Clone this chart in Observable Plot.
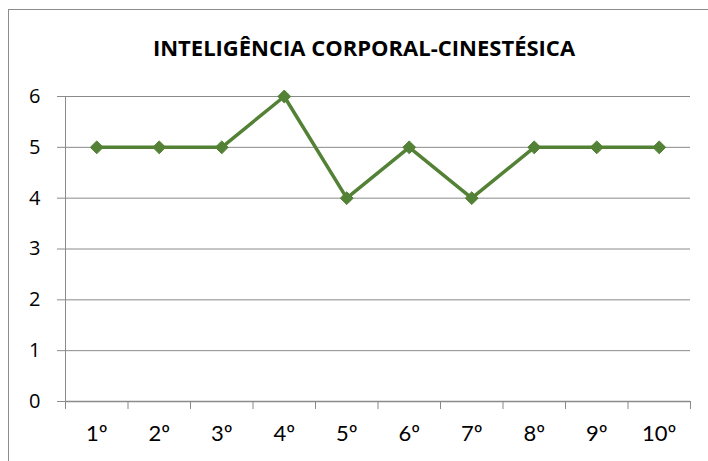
<!DOCTYPE html>
<html>
<head>
<meta charset="utf-8">
<script src="https://cdn.jsdelivr.net/npm/d3@7"></script>
<script src="https://cdn.jsdelivr.net/npm/@observablehq/plot@0.6"></script>
<style>
  body { margin: 0; background: #fff; font-family: "Open Sans", sans-serif; }
  #wrap { position: relative; width: 708px; height: 461px; overflow: hidden; }
  #frame { position: absolute; left: 8px; top: 9px; width: 720px; height: 470px; border: 1px solid #8c8c8c; box-sizing: border-box; }
  #title { position: relative; height: 80px; text-align: center; font-weight: bold; font-size: 22px; line-height: 24px; padding-top: 35px; box-sizing: border-box; color: #000; padding-left: 20px; white-space: nowrap; }
  #chart svg { display: block; }
</style>
</head>
<body>
<div id="wrap">
  <div id="frame"></div>
  <div id="title">INTELIGÊNCIA CORPORAL-CINESTÉSICA</div>
  <div id="chart"></div>
</div>
<script>
const categories = ["1º","2º","3º","4º","5º","6º","7º","8º","9º","10º"];
const values = [5, 5, 5, 6, 4, 5, 4, 5, 5, 5];
const yTicks = [0, 1, 2, 3, 4, 5, 6];

const data = categories.map((c, i) => ({pos: i + 1, label: c, value: values[i]}));
const boundaries = d3.range(0, categories.length + 1).map(i => i + 0.5);
const green = "#538135";
const grey = "#8a8a8a";

const chart = Plot.plot({
  width: 708,
  height: 381,
  marginTop: 16,
  marginBottom: 60,
  marginLeft: 65,
  marginRight: 18,
  style: {fontFamily: "Open Sans, sans-serif", fontSize: "20px", color: "#000"},
  x: {type: "linear", domain: [0.5, categories.length + 0.5]},
  y: {domain: [0, 6]},
  marks: [
    Plot.gridY(yTicks, {stroke: grey, strokeOpacity: 1, strokeWidth: 1}),
    Plot.axisY(yTicks, {tickSize: 8, tickPadding: 17, tickFormat: d => String(d), stroke: grey, strokeOpacity: 1, label: null}),
    Plot.axisX(boundaries, {tickSize: 8, tickFormat: () => "", stroke: grey, strokeOpacity: 1, label: null}),
    Plot.axisX(data.map(d => d.pos), {tickSize: 0, tickPadding: 24, tickFormat: (d) => categories[d - 1], label: null}),
    Plot.ruleX([0.5], {y1: 0, y2: 6, stroke: grey, strokeWidth: 1}),
    Plot.ruleY([0], {stroke: grey, strokeWidth: 1.5}),
    Plot.line(data, {x: "pos", y: "value", stroke: green, strokeWidth: 3.5}),
    Plot.dot(data, {x: "pos", y: "value", symbol: "diamond2", r: 5.8, fill: green, stroke: green, strokeWidth: 1})
  ]
});
d3.select(chart).selectAll("text").style("font-size", "20px").style("fill", "#000");
d3.select(chart).selectAll("text")
  .filter(function() { return categories.includes(this.textContent); })
  .style("font-family", "Lato, sans-serif").style("font-size", "22px");
document.getElementById("chart").appendChild(chart);
</script>
</body>
</html>
